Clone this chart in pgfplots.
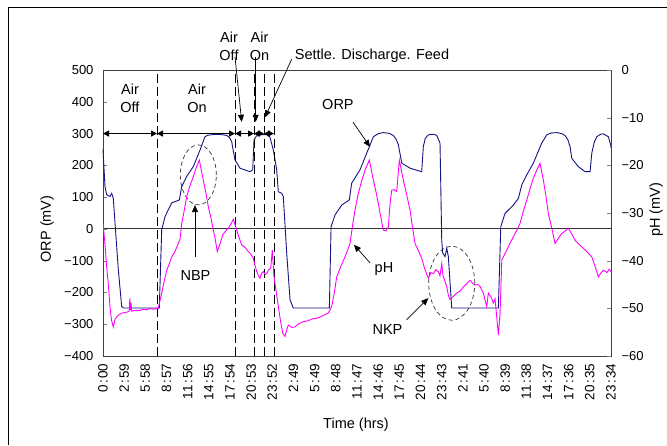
\documentclass[border=0pt]{standalone}
\usepackage{fontspec}
\setmainfont{Liberation Sans}
\usepackage{pgfplots}
\pgfplotsset{compat=1.18}
\usetikzlibrary{arrows.meta}
\definecolor{orpc}{RGB}{20,20,130}
\definecolor{phc}{RGB}{255,0,255}
\newcommand{\cl}{\kern1.5pt:\kern1.5pt}
\begin{document}
\begin{tikzpicture}[font=\fontsize{14.5}{17}\selectfont]
\useasboundingbox (0,0) rectangle (667pt,445pt);
\draw[line width=1pt] (8pt,0) -- (8pt,437pt) -- (667pt,437pt);
\begin{axis}[at={(103pt,89pt)}, anchor=south west, scale only axis,
  width=508pt, height=286pt,
  xmin=0, xmax=71.568, ymin=-400, ymax=500,
  clip=false,
  axis line style={black!75, line width=0.8pt},
  xtick pos=bottom, ytick pos=left,
  tick align=inside, major tick length=4pt,
  ytick={-400,-300,...,500},
  yticklabels={−400,−300,−200,−100,0,100,200,300,400,500},
  yticklabel style={xshift=-6pt, font=\fontsize{13}{15}\selectfont},
  xtick={0,2.982,5.964,8.946,11.928,14.91,17.892,20.874,23.856,26.838,29.82,32.802,35.784,38.766,41.748,44.73,47.712,50.694,53.676,56.658,59.64,62.622,65.604,68.586,71.568},
  xticklabels={0\cl00,2\cl59,5\cl58,8\cl57,11\cl56,14\cl55,17\cl54,20\cl53,23\cl52,2\cl49,5\cl49,8\cl48,11\cl47,14\cl46,17\cl45,20\cl44,23\cl43,2\cl41,5\cl40,8\cl39,11\cl38,14\cl37,17\cl36,20\cl35,23\cl34},
  xticklabel style={yshift=-4pt, rotate=90, anchor=east, font=\fontsize{13.5}{15}\selectfont},
  xtick style={draw=none},
]
% zero line
\addplot[black!80, line width=0.8pt] coordinates {(0,0) (71.568,0)};
% ORP
\addplot[orpc, line width=0.9pt] coordinates {
(0,250) (0.28,133) (0.52,107) (0.99,102) (1.23,112) (1.45,96) (2.16,-129) (2.63,-244) (2.86,-249) (7.93,-249)
(8.27,-3) (8.74,39) (9.68,82) (10.75,91) (11.09,133) (11.79,165) (12.72,196) (13.67,248) (14.37,290) (14.8,295) (15.6,297) (16.6,297) (17.43,294) (17.8,288) (18.13,275) (18.4,240) (18.6,217) (19.3,191) (20.71,180) (21.09,186)
(21.28,280) (21.6,292) (21.88,296) (23.0,297) (23.5,290) (24.0,248) (24.47,186) (24.7,117) (25.18,112) (25.4,102) (25.88,-76) (26.35,-223) (26.81,-249) (31.89,-249)
(32.13,7) (32.69,44) (33.63,75) (34.7,91) (35.04,144) (36.21,186) (37.15,238) (38.09,290) (38.8,300) (39.49,303) (40.3,301) (40.9,294) (41.3,282) (41.61,265) (42.09,207) (43.26,191) (44.9,180)
(45.13,259) (45.4,285) (45.83,296) (46.6,298) (47.02,294) (47.48,270) (47.72,-35) (47.86,-76) (48.19,-87) (48.43,-61) (48.65,-87) (49.13,-249) (55.7,-249)
(56.04,7) (56.64,49) (57.81,75) (58.52,96) (58.99,138) (59.7,170) (60.63,207) (61.81,270) (62.52,296) (63.2,302) (63.93,303) (64.6,300) (65.1,294) (65.5,280) (65.8,259) (66.04,222) (66.97,196) (67.91,180) (68.62,180)
(68.86,238) (69.2,272) (69.56,290) (70.1,298) (70.49,299) (71.2,290) (71.53,264) (71.568,255)
};
% dashed phase lines
\addplot[black, line width=0.9pt, dash pattern=on 9pt off 4pt] coordinates {(7.61,-400) (7.61,500)};
\addplot[black, line width=0.9pt, dash pattern=on 9pt off 4pt] coordinates {(18.6,-400) (18.6,500)};
\addplot[black, line width=0.9pt, dash pattern=on 9pt off 4pt] coordinates {(21.28,-400) (21.28,500)};
\addplot[black, line width=0.9pt, dash pattern=on 9pt off 4pt] coordinates {(22.68,-400) (22.68,500)};
\addplot[black, line width=0.9pt, dash pattern=on 9pt off 4pt] coordinates {(24.09,-400) (24.09,500)};
% phase arrows
\draw[{Triangle[length=6pt,width=6pt]}-{Triangle[length=6pt,width=6pt]}, line width=0.9pt] (axis cs:0,300) -- (axis cs:7.61,300);
\draw[{Triangle[length=6pt,width=6pt]}-{Triangle[length=6pt,width=6pt]}, line width=0.9pt] (axis cs:7.61,300) -- (axis cs:18.6,300);
\draw[{Triangle[length=6pt,width=6pt]}-{Triangle[length=6pt,width=6pt]}, line width=0.9pt] (axis cs:18.6,300) -- (axis cs:21.28,300);
\draw[{Triangle[length=6pt,width=6pt]}-{Triangle[length=6pt,width=6pt]}, line width=0.9pt] (axis cs:21.28,300) -- (axis cs:22.68,300);
\draw[{Triangle[length=6pt,width=6pt]}-{Triangle[length=6pt,width=6pt]}, line width=0.9pt] (axis cs:22.68,300) -- (axis cs:24.09,300);
% texts
\node[align=center, inner sep=0pt] at (axis cs:3.8,412) {Air\\[1pt]Off};
\node[align=center, inner sep=0pt] at (axis cs:13.24,412) {Air\\[1pt]On};
\node[align=center, inner sep=0pt] at (axis cs:17.75,574) {Air\\[1pt]Off};
\node[align=center, inner sep=0pt] at (axis cs:22.05,574) {Air\\[1pt]On};
\node[inner sep=0pt] at (axis cs:37.9,544) {Settle. Discharge. Feed};
\draw[-{Triangle[length=7pt,width=6pt]}, line width=0.7pt] (axis cs:18.6,541) -- (axis cs:19.54,337);
\draw[-{Triangle[length=7pt,width=6pt]}, line width=0.7pt] (axis cs:21.51,541) -- (axis cs:21.51,337);
\draw[-{Triangle[length=7pt,width=6pt]}, line width=0.7pt] (axis cs:26.58,534) -- (axis cs:22.82,351);
\node[inner sep=0pt] at (axis cs:33.1,390) {ORP};
\draw[-{Triangle[length=7pt,width=6pt]}, line width=0.7pt] (axis cs:35.22,336) -- (axis cs:37.62,258);
\node[inner sep=0pt] at (axis cs:39.59,-126) {pH};
\draw[-{Triangle[length=7pt,width=6pt]}, line width=0.7pt] (axis cs:37.62,-107) -- (axis cs:35.36,-50);
\node[inner sep=0pt] at (axis cs:13.03,-148) {NBP};
\draw[-{Triangle[length=7pt,width=6pt]}, line width=0.7pt] (axis cs:12.96,-87) -- (axis cs:12.96,75);
\node[inner sep=0pt] at (axis cs:40.08,-318) {NKP};
\draw[-{Triangle[length=7pt,width=6pt]}, line width=0.7pt] (axis cs:42.78,-286) -- (axis cs:45.83,-218);
\draw[black!80, line width=0.7pt, dash pattern=on 4pt off 3pt] (axis cs:13.43,170) ellipse [x radius=18pt, y radius=30pt];
\draw[black!80, line width=0.7pt, dash pattern=on 4pt off 3pt] (axis cs:49.13,-171) ellipse [x radius=23pt, y radius=37pt];
\end{axis}
\begin{axis}[at={(103pt,89pt)}, anchor=south west, scale only axis,
  width=508pt, height=286pt,
  xmin=0, xmax=71.568, ymin=-60, ymax=0,
  axis y line*=right, axis x line=none,
  axis line style={black!75, line width=0.8pt},
  tick align=inside, major tick length=4pt,
  ytick={-60,-50,...,0},
  yticklabels={−60,−50,−40,−30,−20,−10,0},
  yticklabel style={xshift=7pt, font=\fontsize{13}{15}\selectfont},
]
\addplot[phc, line width=0.9pt] coordinates {
(0,-32.2) (0.25,-36) (0.52,-41.3) (0.75,-45) (0.99,-49.7) (1.2,-52.5) (1.45,-53.9) (1.7,-52.3) (1.93,-51.8) (2.3,-51.3) (2.63,-51.0) (3.1,-50.9) (3.56,-50.7)
(3.7,-50.5) (3.78,-47.9) (3.86,-50.4) (3.95,-48.8) (4.05,-50.6) (4.6,-50.4) (5.1,-50.5) (5.68,-50.2) (6.2,-50.3) (6.62,-50.0) (7.1,-50.2) (7.79,-50.0)
(8.27,-46.8) (8.6,-44.5) (8.98,-42.0) (9.3,-40.8) (9.68,-39.2) (10.1,-38.2) (10.61,-36.4) (10.85,-35.5) (11.09,-32.2) (11.4,-29.8) (11.79,-26.6) (12.2,-24.5) (12.72,-22.4) (13.1,-20.6) (13.57,-18.9)
(14.13,-23.1) (14.5,-25.8) (14.84,-28.7) (15.2,-31.0) (15.54,-33.6) (15.8,-35.4) (16.1,-38.1) (16.5,-36.4) (16.87,-34.6) (17.2,-33.9) (17.65,-33.2) (18.0,-32.4) (18.36,-31.3)
(18.84,-33.6) (19.2,-35.3) (19.54,-36.7) (20.0,-37.2) (20.47,-38.1) (20.8,-38.6) (21.18,-39.5) (21.4,-40.9) (21.66,-42.3) (21.9,-43.1) (22.12,-43.7) (22.35,-42.6) (22.59,-42.3) (22.85,-42.9) (23.11,-42.6) (23.35,-41.9) (23.63,-41.6)
(23.85,-37.8) (24.09,-43.4) (24.4,-46.5) (24.7,-49.6) (25.0,-52.6) (25.32,-55.2) (25.64,-55.9) (25.9,-54.4) (26.11,-53.5) (26.6,-54.0) (27.05,-53.9) (27.6,-53.2) (28.22,-52.8) (28.9,-52.6) (29.5,-52.2) (30.11,-52.1) (30.9,-51.6) (31.74,-51.0)
(32.22,-49.6) (32.6,-46.6) (32.93,-43.4) (33.5,-41.2) (34.1,-39.2) (34.5,-37.6) (34.8,-36.4) (35.27,-31.5) (35.6,-28.6) (35.97,-25.9) (36.4,-23.5) (36.92,-21.0) (37.52,-18.9)
(38.09,-23.1) (38.45,-25.5) (38.79,-28.0) (39.1,-30.6) (39.49,-33.6) (39.87,-33.7) (40.2,-32.9) (40.44,-28) (40.68,-25.2) (41.0,-25.1) (41.38,-25.5) (41.75,-18.9)
(42.31,-23.1) (42.8,-26.3) (43.26,-29.4) (43.6,-33.0) (43.96,-36.4) (44.4,-37.8) (44.9,-39.5) (45.3,-41.6) (45.83,-43.7) (46.2,-42.5) (46.54,-42.7) (46.9,-41.9) (47.24,-42.3) (47.48,-43.2) (47.72,-40.6) (47.9,-43.2)
(48.2,-44.4) (48.43,-45.5) (48.65,-47.2) (48.89,-48.2) (49.3,-47.6) (49.83,-46.8) (50.3,-46.4) (50.76,-45.5) (51.2,-44.9) (51.71,-44.1) (52.1,-44.8) (52.41,-45.1) (52.8,-45.0) (53.12,-45.4) (53.58,-46.8) (54.06,-49.6) (54.29,-46.8) (54.7,-47.7) (54.99,-48.9) (55.23,-48.0) (55.47,-51.8) (55.7,-55.6) (55.94,-51.0)
(56.18,-39.9) (56.5,-38.9) (56.88,-37.8) (57.3,-36.5) (57.81,-35.0) (58.3,-33.6) (58.75,-32.2) (59.2,-29.7) (59.7,-27.3) (60.2,-24.7) (60.63,-22.7) (61.1,-21.0) (61.57,-19.6)
(62.04,-23.1) (62.4,-26.4) (62.74,-30.1) (63.2,-33.0) (63.69,-36.4) (64.2,-35.2) (64.63,-34.3) (65.1,-33.8) (65.56,-33.2) (66.0,-34.3) (66.5,-35.7) (67.1,-36.6) (67.67,-37.4) (68.3,-38.3) (68.86,-39.2) (69.3,-41.1) (69.79,-43.4) (70.1,-42.7) (70.49,-42.0) (71.0,-42.5) (71.3,-41.8) (71.568,-42.3)
};
\end{axis}
\node[rotate=90] at (47pt,216pt) {ORP (mV)};
\node[rotate=90, inner sep=1pt] at (656pt,235pt) {pH (mV)};
\node at (356pt,20pt) {Time (hrs)};
\end{tikzpicture}
\end{document}
